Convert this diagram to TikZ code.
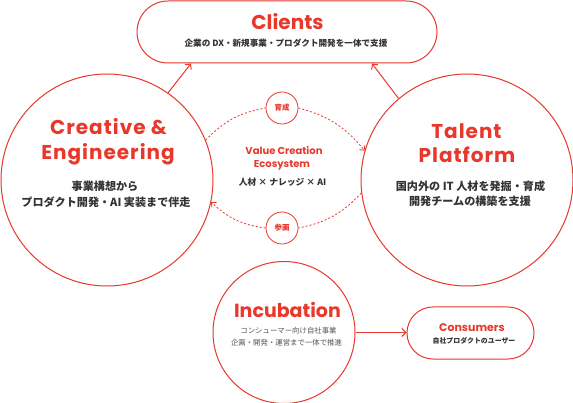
\documentclass[tikz,border=0pt]{standalone}
\usepackage{fontspec}
\setmainfont{Poppins}
\newfontfamily\pop{Poppins}
\newfontfamily\popwide{Poppins}[LetterSpace=5]
\newfontfamily\jp{Noto Sans CJK JP}
\usetikzlibrary{arrows.meta}
\definecolor{cred}{HTML}{E8372B}
\definecolor{ctext}{HTML}{333333}
\definecolor{cgray}{HTML}{555555}
\begin{document}
\begin{tikzpicture}[x=1pt,y=-1pt,
  bigcirc/.style={circle,draw=cred,line width=1pt,inner sep=0pt},
  pill/.style={draw=cred,line width=1pt,inner sep=0pt},
  title/.style={anchor=base,text=cred,font=\popwide\bfseries\fontsize{20}{20}\selectfont,inner sep=0pt},
  sub/.style={text=ctext,font=\jp\bfseries\fontsize{11.1}{12}\selectfont,inner sep=0pt},
  smallcirc/.style={circle,draw=cred,line width=0.8pt,minimum size=32pt,inner sep=0pt,fill=white,text=cred,font=\jp\bfseries\fontsize{7.5}{8}\selectfont},
  conn/.style={draw=cred,line width=1pt,-{Straight Barb[length=4pt,width=8pt,line width=1pt]}},
  dconn/.style={draw=cred,line width=0.8pt,dash pattern=on 2pt off 2pt},
  dtip/.style={-{Straight Barb[length=3.5pt,width=7pt,line width=0.8pt]}}
]
\useasboundingbox (0,0) rectangle (573,403);

% main shapes
\node[pill,rounded corners=30.9pt,minimum width=300pt,minimum height=62pt] (cl) at (287,32) {};
\node[bigcirc,minimum size=212pt] (ce) at (107,180) {};
\node[bigcirc,minimum size=212pt] (tp) at (467,180) {};
\node[bigcirc,minimum size=142pt] (inc) at (284,332.5) {};
\node[pill,rounded corners=25.9pt,minimum width=127pt,minimum height=52pt] (cons) at (470.5,333) {};

% Clients texts
\node[title,font=\pop\bfseries\fontsize{20}{20}\selectfont] (clt) at (287.5,29.3) {Clients};
\node[sub,font=\jp\bfseries\fontsize{8.6}{10}\selectfont] (cls) at (286,43.5) {企業の DX・新規事業・プロダクト開発を一体で支援};

% Creative & Engineering texts
\node[title] (cet1) at (108.5,134.3) {Creative \&};
\node[title] (cet2) at (108,159.3) {Engineering};
\node[sub] (ces1) at (105,186.7) {事業構想から};
\node[sub] (ces2) at (106,201.7) {プロダクト開発・AI 実装まで伴走};

% Talent Platform texts
\node[title] (tpt1) at (466.5,138.3) {Talent};
\node[title] (tpt2) at (467,162.3) {Platform};
\node[sub] (tps1) at (470.5,186.7) {国内外の IT 人材を発掘・育成};
\node[sub] (tps2) at (470,201.7) {開発チームの構築を支援};

% Value creation centre
\node[anchor=base,text=cred,font=\pop\bfseries\fontsize{10}{12}\selectfont,inner sep=0pt] (vc1) at (284,155) {Value Creation};
\node[anchor=base,text=cred,font=\pop\bfseries\fontsize{10}{12}\selectfont,inner sep=0pt] (vc2) at (282,167.7) {Ecosystem};
\node[sub,font=\jp\bfseries\fontsize{8.8}{10}\selectfont] (vc3) at (282.5,182) {人材 × ナレッジ × AI};

% small circles
\node[smallcirc] (ik) at (282,108) {育成};
\node[smallcirc] (sk) at (282,228) {参画};

% Incubation texts
\node[title,font=\pop\bfseries\fontsize{19}{19}\selectfont] (inct) at (287.5,317.3) {Incubation};
\node[text=cgray,font=\jp\fontsize{7.4}{9}\selectfont,inner sep=0pt] (incs1) at (288.5,331) {コンシューマー向け自社事業};
\node[text=cgray,font=\jp\fontsize{7.4}{9}\selectfont,inner sep=0pt] (incs2) at (286.5,343) {企画・開発・運営まで一体で推進};

% Consumers texts
\node[anchor=base,text=cred,font=\pop\bfseries\fontsize{11}{12}\selectfont,inner sep=0pt] (const) at (472,331.7) {Consumers};
\node[text=ctext,font=\jp\bfseries\fontsize{6.9}{8}\selectfont,inner sep=0pt] (conss) at (474,341) {自社プロダクトのユーザー};

% connectors
\draw[conn] (ce.55.7) -- ([xshift=-96pt]cl.south);
\draw[conn] (tp.130) -- ([xshift=85pt]cl.south);
\draw[conn] (inc.east) -- (inc.east -| cons.west);

% dashed cycle
\draw[dconn] (ce.22) to[bend left=18] (ik.west);
\draw[dconn,dtip] (ik.east) to[bend left=18] (tp.164);
\draw[dconn] (tp.187) to[bend left=18] (sk.east);
\draw[dconn,dtip] (sk.west) to[bend left=18] (ce.-12);
\end{tikzpicture}
\end{document}
